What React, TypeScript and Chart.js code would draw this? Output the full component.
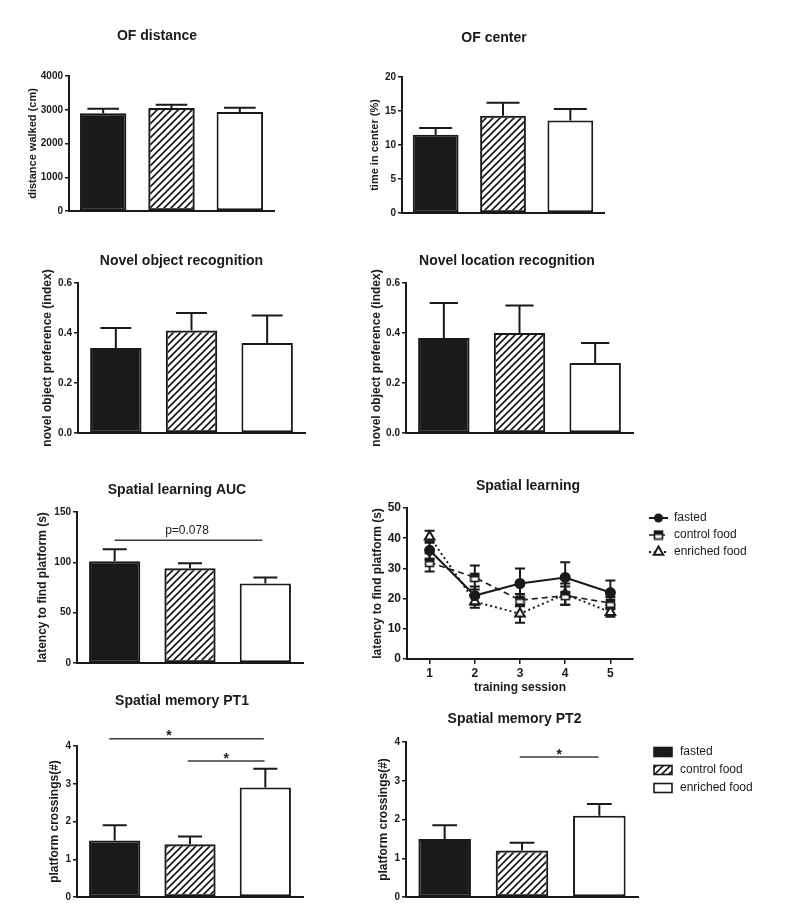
import React, { useEffect, useRef } from 'react';
import { Chart, registerables } from 'chart.js';

Chart.register(...registerables);

const FONT = '"Liberation Sans", Arial, Helvetica, sans-serif';
const INK = '#1a1a1a';
const SIG = '#3a3a3a';

// ---------- data ----------
const groups = ['fasted', 'control food', 'enriched food'];

const ofDistanceMean = [2900, 3050, 2930];
const ofDistanceSem = [130, 100, 130];
const ofCenterMean = [11.5, 14.3, 13.6];
const ofCenterSem = [1.0, 1.9, 1.7];
const novelObjectMean = [0.34, 0.41, 0.36];
const novelObjectSem = [0.08, 0.07, 0.11];
const novelLocationMean = [0.38, 0.4, 0.28];
const novelLocationSem = [0.14, 0.11, 0.08];
const aucMean = [101, 94, 79];
const aucSem = [12, 5, 6];
const pt1Mean = [1.5, 1.4, 2.9];
const pt1Sem = [0.4, 0.2, 0.5];
const pt2Mean = [1.5, 1.2, 2.1];
const pt2Sem = [0.35, 0.2, 0.3];

const sessions = ['1', '2', '3', '4', '5'];
const fastedLatency = [36, 21, 25, 27, 22];
const fastedLatencySem = [3, 3, 5, 5, 4];
const controlLatency = [32, 27, 19.5, 21, 18.5];
const controlLatencySem = [3, 4, 2, 3, 2];
const enrichedLatency = [40.5, 19, 15, 21.5, 15.5];
const enrichedLatencySem = [2, 2, 3, 3.5, 1.5];

// ---------- helpers ----------
type Box = { x0: number; y0: number; w: number; h: number; L: number; T: number; R: number; B: number };

function hatchPattern(ctx: CanvasRenderingContext2D): CanvasPattern {
  const n = 7;
  const t = document.createElement('canvas');
  t.width = n;
  t.height = n;
  const g = t.getContext('2d')!;
  g.strokeStyle = INK;
  g.lineWidth = 1.7;
  g.beginPath();
  g.moveTo(0, n); g.lineTo(n, 0);
  g.moveTo(-2, 2); g.lineTo(2, -2);
  g.moveTo(n - 2, n + 2); g.lineTo(n + 2, n - 2);
  g.stroke();
  return ctx.createPattern(t, 'repeat')!;
}

function halfSquare(): HTMLCanvasElement {
  const c = document.createElement('canvas');
  c.width = 11;
  c.height = 11;
  const g = c.getContext('2d')!;
  g.fillStyle = '#ffffff';
  g.fillRect(1, 1, 9, 9);
  g.fillStyle = INK;
  g.fillRect(1, 1, 9, 4.5);
  g.strokeStyle = INK;
  g.lineWidth = 1.6;
  g.strokeRect(1.5, 1.5, 8, 8);
  return c;
}

function yAxis(box: Box, o: any) {
  return {
    type: 'linear',
    min: 0,
    max: o.max,
    ticks: {
      stepSize: o.step,
      font: { family: FONT, size: o.tickSize, weight: 'bold' },
      color: INK,
      padding: 2,
      callback: (v: any) => Number(v).toFixed(o.decimals),
    },
    grid: { drawOnChartArea: false, drawTicks: true, tickLength: 4, color: INK, lineWidth: 1.5 },
    border: { display: true, color: INK, width: 2 },
    title: {
      display: true,
      text: o.title,
      color: INK,
      font: { family: FONT, size: o.titleSize, weight: 'bold', lineHeight: 1.2 },
      padding: { top: o.titleX - box.x0 - (o.titleSize * 1.2) / 2, bottom: 0 },
    },
    afterFit: (s: any) => { s.width = box.L - box.x0; },
  };
}

function baseOptions(box: Box) {
  return {
    responsive: false,
    animation: false,
    events: [],
    layout: { padding: { left: 0, top: box.T - box.y0, right: box.x0 + box.w - box.R, bottom: 0 } },
    plugins: { legend: { display: false }, tooltip: { enabled: false }, title: { display: false } },
  };
}

function drawTitle(g: CanvasRenderingContext2D, box: Box, text: string, x: number, y: number) {
  g.fillStyle = INK;
  g.font = `bold 14px ${FONT}`;
  g.textAlign = 'center';
  g.textBaseline = 'middle';
  g.fillText(text, x - box.x0, y - box.y0);
}

function ChartBox({ box, make }: { box: Box; make: (ctx: CanvasRenderingContext2D) => any }) {
  const ref = useRef<HTMLCanvasElement>(null);
  useEffect(() => {
    const canvas = ref.current!;
    const ctx = canvas.getContext('2d')!;
    const chart = new Chart(ctx, make(ctx));
    return () => chart.destroy();
  }, []);
  return (
    <canvas
      ref={ref}
      width={box.w}
      height={box.h}
      style={{ position: 'absolute', left: box.x0, top: box.y0, width: box.w, height: box.h }}
    />
  );
}

// ---------- bar panels ----------
type Sig = { from: number; to: number; at: number; text: string; textPos: number };
type BarSpec = {
  box: Box; title: string; titleX: number; titleY: number;
  yTitle: string; yTitleX: number; yTitleSize: number;
  max: number; step: number; decimals: number;
  mean: number[]; sem: number[]; capFrac: number;
  sig?: Sig[]; legend?: boolean;
};

const barSpecs: BarSpec[] = [
  {
    box: { x0: 0, y0: 15, w: 330, h: 215, L: 69, T: 76, R: 274, B: 211 },
    title: 'OF distance', titleX: 157, titleY: 36,
    yTitle: 'distance walked (cm)', yTitleX: 33, yTitleSize: 11,
    max: 4000, step: 1000, decimals: 0, mean: ofDistanceMean, sem: ofDistanceSem, capFrac: 0.68,
  },
  {
    box: { x0: 330, y0: 15, w: 457, h: 215, L: 402, T: 77, R: 604, B: 213 },
    title: 'OF center', titleX: 494, titleY: 38,
    yTitle: 'time in center (%)', yTitleX: 375, yTitleSize: 11,
    max: 20, step: 5, decimals: 0, mean: ofCenterMean, sem: ofCenterSem, capFrac: 0.72,
  },
  {
    box: { x0: 0, y0: 240, w: 330, h: 210, L: 78, T: 283, R: 305, B: 433 },
    title: 'Novel object recognition', titleX: 181.5, titleY: 261,
    yTitle: 'novel object preference (index)', yTitleX: 48, yTitleSize: 12,
    max: 0.6, step: 0.2, decimals: 1, mean: novelObjectMean, sem: novelObjectSem, capFrac: 0.6,
  },
  {
    box: { x0: 330, y0: 240, w: 457, h: 210, L: 406, T: 283, R: 633, B: 433 },
    title: 'Novel location recognition', titleX: 507, titleY: 261,
    yTitle: 'novel object preference (index)', yTitleX: 377, yTitleSize: 12,
    max: 0.6, step: 0.2, decimals: 1, mean: novelLocationMean, sem: novelLocationSem, capFrac: 0.55,
  },
  {
    box: { x0: 0, y0: 470, w: 330, h: 210, L: 77, T: 512, R: 303, B: 663 },
    title: 'Spatial learning AUC', titleX: 177, titleY: 490,
    yTitle: 'latency to find platform (s)', yTitleX: 43, yTitleSize: 12,
    max: 150, step: 50, decimals: 0, mean: aucMean, sem: aucSem, capFrac: 0.47,
    sig: [{ from: 0, to: 1.96, at: 122, text: 'p=0.078', textPos: 0.96 }],
  },
  {
    box: { x0: 0, y0: 685, w: 330, h: 230, L: 77, T: 746, R: 303, B: 897 },
    title: 'Spatial memory PT1', titleX: 182, titleY: 701,
    yTitle: 'platform crossings(#)', yTitleX: 55, yTitleSize: 12,
    max: 4, step: 1, decimals: 0, mean: pt1Mean, sem: pt1Sem, capFrac: 0.47,
    sig: [
      { from: -0.07, to: 1.98, at: 4.19, text: '*', textPos: 0.72 },
      { from: 0.97, to: 1.99, at: 3.6, text: '*', textPos: 1.48 },
    ],
  },
  {
    box: { x0: 330, y0: 700, w: 457, h: 215, L: 406, T: 742, R: 638, B: 897 },
    title: 'Spatial memory PT2', titleX: 514.5, titleY: 719,
    yTitle: 'platform crossings(#)', yTitleX: 384, yTitleSize: 12,
    max: 4, step: 1, decimals: 0, mean: pt2Mean, sem: pt2Sem, capFrac: 0.47,
    sig: [{ from: 0.97, to: 1.99, at: 3.61, text: '*', textPos: 1.48 }],
    legend: true,
  },
];

function barConfig(s: BarSpec, ctx: CanvasRenderingContext2D) {
  const hatch = hatchPattern(ctx);
  const fills: any[] = [INK, hatch, '#ffffff'];
  const box = s.box;
  const extras = {
    id: 'barExtras',
    afterDatasetsDraw(chart: any) {
      const g = chart.ctx as CanvasRenderingContext2D;
      const ys = chart.scales.y;
      const xs = chart.scales.x;
      const meta = chart.getDatasetMeta(0);
      g.save();
      g.strokeStyle = INK;
      g.lineWidth = 2;
      meta.data.forEach((el: any, i: number) => {
        const x = el.x;
        const half = (el.width * s.capFrac) / 2;
        const ye = ys.getPixelForValue(s.mean[i] + s.sem[i]);
        g.beginPath();
        g.moveTo(x, el.y);
        g.lineTo(x, ye);
        g.moveTo(x - half, ye);
        g.lineTo(x + half, ye);
        g.stroke();
      });
      (s.sig || []).forEach((sg) => {
        const xa = xs.getPixelForValue(sg.from);
        const xb = xs.getPixelForValue(sg.to);
        const xt = xs.getPixelForValue(sg.textPos);
        const y = ys.getPixelForValue(sg.at);
        g.strokeStyle = SIG;
        g.lineWidth = 1.5;
        g.beginPath();
        g.moveTo(xa, y);
        g.lineTo(xb, y);
        g.stroke();
        g.fillStyle = INK;
        g.textAlign = 'center';
        if (sg.text === '*') {
          g.font = `bold 14px ${FONT}`;
          g.textBaseline = 'alphabetic';
          g.fillText('*', xt, y + 1.5);
        } else {
          g.font = `12px ${FONT}`;
          g.textBaseline = 'middle';
          g.fillText(sg.text, xt, y - 9);
        }
      });
      drawTitle(g, box, s.title, s.titleX, s.titleY);
      if (s.legend) {
        const rows = [752, 770, 788];
        rows.forEach((ry, i) => {
          const y = ry - box.y0;
          const x = 654 - box.x0;
          g.fillStyle = fills[i];
          g.fillRect(x, y - 4.5, 18, 9);
          g.strokeStyle = INK;
          g.lineWidth = 1.6;
          g.strokeRect(x, y - 4.5, 18, 9);
          g.fillStyle = INK;
          g.font = `12px ${FONT}`;
          g.textAlign = 'left';
          g.textBaseline = 'middle';
          g.fillText(groups[i], 680 - box.x0, y);
        });
      }
      g.restore();
    },
  };
  return {
    type: 'bar',
    data: {
      labels: groups,
      datasets: [
        {
          data: s.mean,
          backgroundColor: fills,
          borderColor: INK,
          borderWidth: 2,
          borderSkipped: false,
          barPercentage: 0.68,
          categoryPercentage: 1,
        },
      ],
    },
    options: {
      ...baseOptions(box),
      scales: {
        x: {
          type: 'category',
          ticks: { display: false },
          grid: { display: false, drawTicks: false },
          border: { display: true, color: INK, width: 2 },
          afterFit: (sc: any) => { sc.height = box.y0 + box.h - box.B; },
        },
        y: yAxis(box, {
          max: s.max, step: s.step, decimals: s.decimals, tickSize: 10,
          title: s.yTitle, titleX: s.yTitleX, titleSize: s.yTitleSize,
        }),
      },
    },
    plugins: [extras],
  };
}

// ---------- line panel ----------
const lineBox: Box = { x0: 330, y0: 470, w: 457, h: 227, L: 407, T: 508, R: 633, B: 659 };

function lineConfig(ctx: CanvasRenderingContext2D) {
  const sq = halfSquare();
  const series = [
    { label: groups[0], data: fastedLatency, sem: fastedLatencySem, dash: [], width: 2, style: 'circle', radius: 4.5, fill: INK },
    { label: groups[1], data: controlLatency, sem: controlLatencySem, dash: [6, 4], width: 1.6, style: sq, radius: 5, fill: INK },
    { label: groups[2], data: enrichedLatency, sem: enrichedLatencySem, dash: [2, 3], width: 2, style: 'triangle', radius: 5.5, fill: '#ffffff' },
  ];
  const box = lineBox;
  const extras = {
    id: 'lineExtras',
    beforeDatasetsDraw(chart: any) {
      const g = chart.ctx as CanvasRenderingContext2D;
      const ys = chart.scales.y;
      g.save();
      g.strokeStyle = INK;
      g.lineWidth = 2;
      series.forEach((sr, di) => {
        const meta = chart.getDatasetMeta(di);
        meta.data.forEach((pt: any, i: number) => {
          const hi = ys.getPixelForValue(sr.data[i] + sr.sem[i]);
          const lo = ys.getPixelForValue(sr.data[i] - sr.sem[i]);
          g.beginPath();
          g.moveTo(pt.x, hi); g.lineTo(pt.x, lo);
          g.moveTo(pt.x - 5, hi); g.lineTo(pt.x + 5, hi);
          g.moveTo(pt.x - 5, lo); g.lineTo(pt.x + 5, lo);
          g.stroke();
        });
      });
      g.restore();
    },
    afterDraw(chart: any) {
      const g = chart.ctx as CanvasRenderingContext2D;
      g.save();
      drawTitle(g, box, 'Spatial learning', 528, 486);
      const rows = [518, 535, 552];
      series.forEach((sr, i) => {
        const y = rows[i] - box.y0;
        const xa = 649 - box.x0;
        const xb = 668 - box.x0;
        const xm = 658.5 - box.x0;
        g.strokeStyle = INK;
        g.lineWidth = sr.width;
        g.setLineDash(sr.dash as number[]);
        g.beginPath();
        g.moveTo(xa, y);
        g.lineTo(xb, y);
        g.stroke();
        g.setLineDash([]);
        if (sr.style === 'circle') {
          g.fillStyle = INK;
          g.beginPath();
          g.arc(xm, y, sr.radius, 0, Math.PI * 2);
          g.fill();
        } else if (sr.style === 'triangle') {
          g.fillStyle = '#ffffff';
          g.lineWidth = 2;
          g.beginPath();
          for (let k = 0; k < 3; k++) {
            const a = (k * 2 * Math.PI) / 3;
            const px = xm + Math.sin(a) * sr.radius;
            const py = y - Math.cos(a) * sr.radius;
            if (k === 0) g.moveTo(px, py); else g.lineTo(px, py);
          }
          g.closePath();
          g.fill();
          g.stroke();
        } else {
          const c = sr.style as HTMLCanvasElement;
          g.drawImage(c, xm - c.width / 2, y - c.height / 2);
        }
        g.fillStyle = INK;
        g.font = `12px ${FONT}`;
        g.textAlign = 'left';
        g.textBaseline = 'middle';
        g.fillText(sr.label, 674 - box.x0, y);
      });
      g.restore();
    },
  };
  return {
    type: 'line',
    data: {
      labels: sessions,
      datasets: series.map((sr) => ({
        label: sr.label,
        data: sr.data,
        borderColor: INK,
        borderWidth: sr.width,
        borderDash: sr.dash,
        tension: 0,
        fill: false,
        pointStyle: sr.style,
        pointRadius: sr.radius,
        pointBackgroundColor: sr.fill,
        pointBorderColor: INK,
        pointBorderWidth: 2,
      })),
    },
    options: {
      ...baseOptions(box),
      scales: {
        x: {
          type: 'category',
          offset: true,
          ticks: { font: { family: FONT, size: 12, weight: 'bold' }, color: INK, padding: 2 },
          grid: { drawOnChartArea: false, drawTicks: true, tickLength: 5, color: INK, lineWidth: 1.5, offset: false },
          border: { display: true, color: INK, width: 2 },
          title: {
            display: true,
            text: 'training session',
            color: INK,
            font: { family: FONT, size: 12, weight: 'bold', lineHeight: 1.2 },
            padding: { top: 0, bottom: 1.8 },
          },
          afterFit: (sc: any) => { sc.height = box.y0 + box.h - box.B; },
        },
        y: yAxis(box, {
          max: 50, step: 10, decimals: 0, tickSize: 12,
          title: 'latency to find platform (s)', titleX: 378, titleSize: 12,
        }),
      },
    },
    plugins: [extras],
  };
}

export default function App() {
  return (
    <div style={{ position: 'absolute', left: 0, top: 0, width: 787, height: 924, background: '#ffffff' }}>
      {barSpecs.map((s, i) => (
        <ChartBox key={i} box={s.box} make={(ctx) => barConfig(s, ctx)} />
      ))}
      <ChartBox box={lineBox} make={lineConfig} />
    </div>
  );
}
